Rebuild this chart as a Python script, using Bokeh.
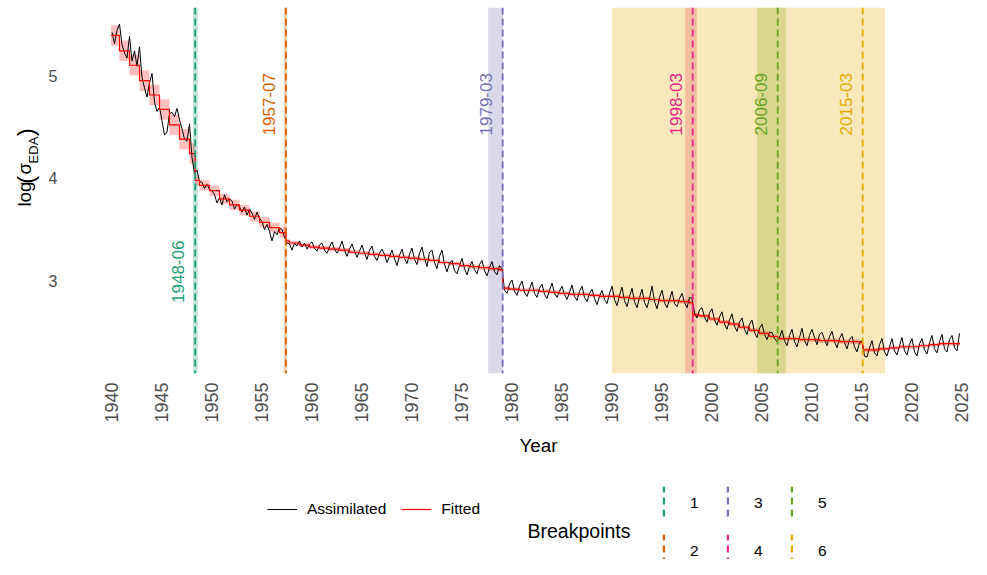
from math import pi
from bokeh.plotting import figure
from bokeh.layouts import column, row
from bokeh.models import (Range1d, FixedTicker, Span, BoxAnnotation, Label,
                          Legend, LegendItem, ColumnDataSource)
from bokeh.core.properties import value
from bokeh.embed import file_html
from bokeh.resources import INLINE

FONT = "Liberation Sans"
NAN = float("nan")

# ---------------- data ----------------
years = list(range(1940, 2025))
quarter_offsets = [0.1, 0.35, 0.6, 0.85]

assimilated = [
    5.42, 5.31, 5.44, 5.50,  5.30, 5.22, 5.17, 5.38,  5.14, 5.24, 5.09, 5.28,  4.98, 4.88, 4.79, 4.93,
    5.02, 4.74, 4.65, 4.69,  4.56, 4.42, 4.45, 4.63,  4.64, 4.60, 4.68, 4.57,  4.48, 4.38, 4.36, 4.53,
    4.20, 4.05, 4.08, 3.97,  3.96, 3.90, 3.94, 3.89,  3.88, 3.84, 3.76, 3.81,  3.74, 3.84, 3.77, 3.80,
    3.78, 3.70, 3.75, 3.72,  3.67, 3.72, 3.64, 3.70,  3.66, 3.60, 3.67, 3.61,  3.58, 3.50, 3.55, 3.48,
    3.39, 3.48, 3.45, 3.52,  3.50, 3.43, 3.37, 3.36,  3.30, 3.37, 3.34, 3.39,  3.33, 3.37, 3.31, 3.36,
    3.38, 3.32, 3.29, 3.35,  3.37, 3.30, 3.27, 3.33,  3.38, 3.31, 3.27, 3.32,  3.39, 3.30, 3.24, 3.31,
    3.36, 3.29, 3.23, 3.29,  3.35, 3.27, 3.21, 3.30,  3.34, 3.24, 3.20, 3.27,  3.31, 3.26, 3.18, 3.24,
    3.30, 3.22, 3.15, 3.25,  3.31, 3.22, 3.17, 3.26,  3.32, 3.21, 3.16, 3.27,  3.33, 3.22, 3.14, 3.28,
    3.30, 3.18, 3.12, 3.24,  3.30, 3.16, 3.09, 3.17,  3.20, 3.10, 3.07, 3.15,  3.22, 3.12, 3.06, 3.14,
    3.19, 3.11, 3.07, 3.16,  3.20, 3.10, 3.05, 3.13,  3.19, 3.09, 3.06, 3.15,  3.12, 2.91, 2.88, 2.97,
    3.01, 2.90, 2.86, 2.95,  3.00, 2.89, 2.85, 2.92,  2.99, 2.88, 2.84, 2.93,  2.97, 2.87, 2.83, 2.91,
    2.98, 2.88, 2.84, 2.90,  2.95, 2.87, 2.82, 2.89,  2.96, 2.85, 2.81, 2.90,  2.95, 2.84, 2.80, 2.88,
    2.92, 2.83, 2.77, 2.85,  2.91, 2.82, 2.78, 2.88,  2.95, 2.82, 2.76, 2.86,  2.94, 2.81, 2.75, 2.85,
    2.93, 2.80, 2.74, 2.84,  2.92, 2.79, 2.74, 2.83,  2.95, 2.80, 2.73, 2.84,  2.91, 2.79, 2.74, 2.82,
    2.90, 2.78, 2.75, 2.83,  2.88, 2.79, 2.74, 2.84,  2.83, 2.69, 2.64, 2.72,  2.74, 2.65, 2.60, 2.69,
    2.73, 2.62, 2.57, 2.65,  2.70, 2.58, 2.53, 2.62,  2.68, 2.56, 2.51, 2.60,  2.64, 2.53, 2.48, 2.58,
    2.62, 2.50, 2.45, 2.54,  2.58, 2.48, 2.43, 2.50,  2.50, 2.44, 2.41, 2.45,  2.52, 2.42, 2.37, 2.47,
    2.53, 2.41, 2.36, 2.45,  2.54, 2.42, 2.37, 2.47,  2.53, 2.45, 2.38, 2.48,  2.50, 2.43, 2.37, 2.46,
    2.51, 2.41, 2.35, 2.44,  2.49, 2.40, 2.34, 2.43,  2.46, 2.36, 2.31, 2.40,  2.42, 2.27, 2.26, 2.35,
    2.42, 2.30, 2.27, 2.38,  2.44, 2.31, 2.27, 2.36,  2.44, 2.32, 2.28, 2.37,  2.45, 2.32, 2.28, 2.38,
    2.44, 2.31, 2.27, 2.39,  2.44, 2.33, 2.29, 2.40,  2.47, 2.34, 2.30, 2.41,  2.48, 2.34, 2.31, 2.43,
    2.47, 2.35, 2.32, 2.49,
]
assim_time = [y + q for y in years for q in quarter_offsets]

# breakpoints
bp_time = [1948.42, 1957.50, 1979.17, 1998.17, 2006.67, 2015.17]
bp_label = ["1948-06", "1957-07", "1979-03", "1998-03", "2006-09", "2015-03"]
bp_ci_lo = [1948.19, 1957.26, 1977.72, 1997.43, 2004.62, 1990.10]
bp_ci_hi = [1948.68, 1957.59, 1979.18, 1998.58, 2007.49, 2017.40]
bp_label_y = [3.09, 4.72, 4.72, 4.72, 4.72, 4.72]
bp_id = ["1", "2", "3", "4", "5", "6"]
bp_colors = ["#1B9E77", "#D95F02", "#7570B3", "#E7298A", "#66A61E", "#E6AB02"]

# fitted (piecewise-constant yearly segments, split at breakpoints)
fit_value = [
    5.39, 5.24, 5.10, 4.95, 4.81, 4.67, 4.52, 4.38, 4.24,
    3.98, 3.93, 3.88, 3.80, 3.74, 3.69, 3.63, 3.57, 3.52, 3.47,
    3.39, 3.37, 3.35, 3.33, 3.32, 3.31, 3.30, 3.28, 3.27, 3.26, 3.25, 3.24, 3.23, 3.22,
    3.21, 3.20, 3.18, 3.17, 3.15, 3.14, 3.13, 3.12, 3.11,
    2.93, 2.92, 2.91, 2.91, 2.90, 2.89, 2.88, 2.87, 2.87, 2.86, 2.85, 2.85, 2.84, 2.83,
    2.83, 2.82, 2.81, 2.81, 2.80, 2.79,
    2.67, 2.66, 2.63, 2.60, 2.58, 2.55, 2.52, 2.49, 2.46,
    2.44, 2.44, 2.44, 2.43, 2.43, 2.42, 2.42, 2.41, 2.41, 2.40,
    2.33, 2.33, 2.34, 2.35, 2.36, 2.36, 2.37, 2.38, 2.39, 2.39,
]
fit_se = [0.10] * 9 + [0.05] * 10 + [0.02] * 72
fit_end = 2024.9
year_bounds = [1940.0] + [y + 0.85 for y in range(1940, 2024)]
fit_start = sorted(set(year_bounds + bp_time))
fit_stop = fit_start[1:] + [fit_end]

x_ticks = list(range(1940, 2030, 5))
y_ticks = [3, 4, 5]

# ---------------- main panel ----------------
p = figure(width=931, height=432, output_backend="svg", toolbar_location=None,
           x_range=Range1d(1935.05, 2026.05), y_range=Range1d(2.0998, 5.6618),
           min_border_left=21, min_border_right=0, min_border_top=7, min_border_bottom=59)
p.outline_line_color = None
p.xgrid.visible = False
p.ygrid.visible = False
p.background_fill_color = None

for ax in (p.xaxis[0], p.yaxis[0]):
    ax.axis_line_color = None
    ax.major_tick_line_color = None
    ax.minor_tick_line_color = None
    ax.major_tick_out = 0
    ax.minor_tick_out = 0
    ax.major_label_text_font = FONT
    ax.major_label_text_color = "#4D4D4D"

p.yaxis.ticker = FixedTicker(ticks=y_ticks)
p.yaxis.major_label_text_font_size = "16px"
p.yaxis.major_label_standoff = 4

p.xaxis.ticker = FixedTicker(ticks=x_ticks)
p.xaxis.major_label_orientation = pi / 2
p.xaxis.major_label_text_font_size = "18px"
p.xaxis.major_label_standoff = 9

# breakpoint confidence bands
for lo, hi, c in zip(bp_ci_lo, bp_ci_hi, bp_colors):
    p.add_layout(BoxAnnotation(left=lo, right=hi, fill_color=c, fill_alpha=0.27,
                               line_alpha=0, level="underlay"))

# fitted ribbon
rib = ColumnDataSource(dict(left=fit_start, right=fit_stop,
                            bottom=[v - s for v, s in zip(fit_value, fit_se)],
                            top=[v + s for v, s in zip(fit_value, fit_se)]))
p.quad(left="left", right="right", bottom="bottom", top="top", source=rib,
       fill_color="#FF0000", fill_alpha=0.25, line_alpha=0)

# assimilated
p.line(assim_time, assimilated, line_color="black", line_width=1.0)

# fitted step line
p.step(fit_start + [fit_end], fit_value + [fit_value[-1]], mode="after",
       line_color="#FF0000", line_width=1.2)

# breakpoint lines
for t, c in zip(bp_time, bp_colors):
    p.add_layout(Span(location=t, dimension="height", line_color=c,
                      line_dash="7 4", line_width=1.8))

# breakpoint labels
lab_src = ColumnDataSource(dict(x=bp_time, y=bp_label_y, text=bp_label, color=bp_colors))
p.text(x="x", y="y", text="text", source=lab_src, angle=pi / 2, text_color="color",
       text_font=value(FONT), text_font_size="17px", text_align="center",
       text_baseline="alphabetic", x_offset=-17)

# ---------------- y-axis title (with subscript) ----------------
yt = figure(width=40, height=432, output_backend="svg", toolbar_location=None,
            x_axis_type=None, y_axis_type=None, x_range=Range1d(0, 40), y_range=Range1d(0, 432),
            min_border_left=0, min_border_right=0, min_border_top=0, min_border_bottom=0)
yt.outline_line_color = None
yt.xgrid.visible = False
yt.ygrid.visible = False
yt_src = ColumnDataSource(dict(x=[23.5, 24.6, 23.5, 32.5, 24.6],
                               y=[197, 224, 235, 248, 280],
                               text=["log", "(", "σ", "EDA", ")"],
                               size=["18.7px", "24px", "18.7px", "13px", "24px"]))
yt.text(x="x", y="y", text="text", source=yt_src, angle=pi / 2, text_color="black",
        text_font=value(FONT), text_font_size="size", text_align="left",
        text_baseline="middle")

# ---------------- x title and legends ----------------
lg = figure(width=971, height=127, output_backend="svg", toolbar_location=None,
            x_axis_type=None, y_axis_type=None, x_range=Range1d(0, 1), y_range=Range1d(0, 1),
            min_border_left=0, min_border_right=0, min_border_top=0, min_border_bottom=0)
lg.outline_line_color = None
lg.xgrid.visible = False
lg.ygrid.visible = False

lg.add_layout(Label(x=538, y=114, x_units="screen", y_units="screen", text="Year",
                    text_font=FONT, text_font_size="18.7px", text_color="black",
                    text_align="center", text_baseline="middle"))
lg.add_layout(Label(x=527, y=29, x_units="screen", y_units="screen", text="Breakpoints",
                    text_font=FONT, text_font_size="19.5px", text_color="black",
                    text_align="left", text_baseline="middle"))

k_assim = lg.line([NAN], [NAN], line_color="black", line_width=1.0)
k_fit = lg.line([NAN], [NAN], line_color="#FF0000", line_width=1.2)
leg1 = Legend(items=[LegendItem(label="Assimilated", renderers=[k_assim]),
                     LegendItem(label="Fitted", renderers=[k_fit])],
              location=(267, 40), orientation="horizontal",
              glyph_width=30, glyph_height=20, label_standoff=10, spacing=15,
              padding=0, margin=0, border_line_alpha=0, background_fill_alpha=0,
              label_text_font=FONT, label_text_font_size="15.5px",
              label_text_color="black")
lg.add_layout(leg1, "center")

# vertical dashed legend keys: narrow bar drawn with a horizontal-line hatch
bp_keys = [lg.vbar(x=[NAN], top=[NAN], width=0.1, fill_alpha=0, line_alpha=0,
                   hatch_pattern="horizontal_line", hatch_color=c, hatch_alpha=1.0,
                   hatch_scale=12, hatch_weight=7) for c in bp_colors]
leg2 = Legend(items=[LegendItem(label=i, renderers=[r]) for i, r in zip(bp_id, bp_keys)],
              location=(662, -13), orientation="vertical", nrows=2,
              glyph_width=3, glyph_height=42, label_standoff=25, label_width=30,
              spacing=6, padding=0, margin=0, border_line_alpha=0,
              background_fill_alpha=0, label_text_font=FONT,
              label_text_font_size="15.5px", label_text_color="black")
lg.add_layout(leg2, "center")

layout = column(row(yt, p, spacing=0), lg, spacing=0)
open("out.html", "w").write(file_html(layout, INLINE))
